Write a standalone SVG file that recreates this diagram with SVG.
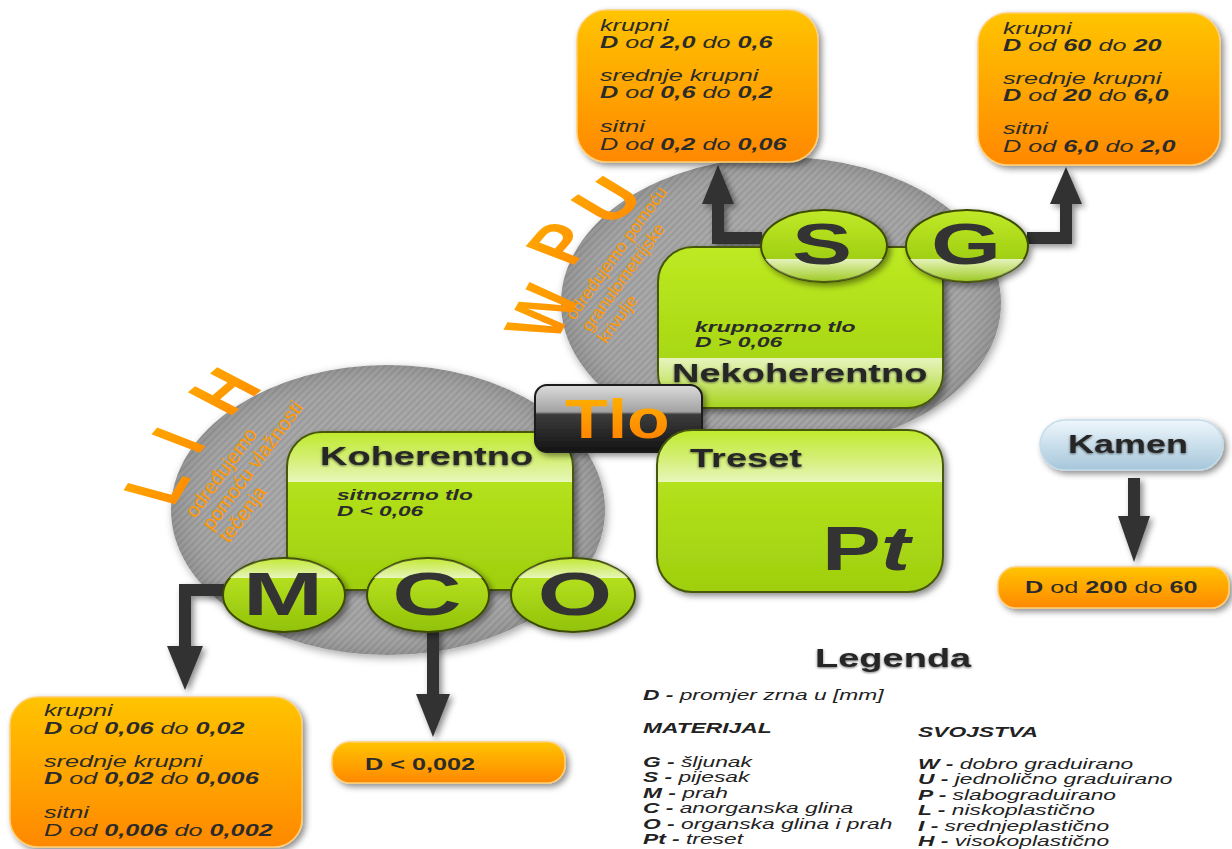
<svg xmlns="http://www.w3.org/2000/svg" width="1232" height="849" viewBox="0 0 1232 849">
<defs>
  <style>
    text { font-family: "Liberation Sans", Arial, "Noto Sans", sans-serif; }
    .ot { font-size: 16.5px; font-style: italic; fill: #2b2b2b; }
    .b { font-weight: bold; }
    .pl { font-size: 16.5px; fill: #2b2b2b; }
    .title { font-size: 25px; font-weight: bold; fill: #262626; filter: url(#tsh); }
    .sub { font-size: 15px; font-weight: bold; font-style: italic; fill: #2b2b2b; }
    .big { font-weight: bold; fill: #333; text-anchor: middle; }
    .arc { font-size: 54px; font-weight: bold; fill: url(#gOrTxt); text-anchor: middle; }
    .side { fill: #ff9800; }
    .leg { font-size: 15px; font-style: italic; fill: #222; }
    .conn { fill: none; stroke: #333; stroke-width: 12; }
    .head { fill: #333; }
    .gbox { fill: url(#gGreen); stroke: #46580c; stroke-width: 2; }
    .gell { fill: url(#gEll); stroke: #3d4c05; stroke-width: 2; }
    .bandT { fill: url(#gBandTop); }
    .bandB { fill: url(#gBandBot); }
    .obox { fill: url(#gOrange); stroke: #ffce70; stroke-width: 1.5; }
    .gray { fill: url(#stripes); }
    .grayov { fill: url(#gGray); }
  </style>
  <linearGradient id="gGreen" x1="0" y1="0" x2="0" y2="1">
    <stop offset="0" stop-color="#bdea22"/>
    <stop offset="1" stop-color="#9fcf0e"/>
  </linearGradient>
  <linearGradient id="gEll" x1="0" y1="0" x2="0" y2="1">
    <stop offset="0" stop-color="#c0ea28"/>
    <stop offset="1" stop-color="#92c208"/>
  </linearGradient>
  <linearGradient id="gBandTop" x1="0" y1="0" x2="0" y2="1">
    <stop offset="0" stop-color="#ffffff" stop-opacity="0.05"/>
    <stop offset="1" stop-color="#ffffff" stop-opacity="0.7"/>
  </linearGradient>
  <linearGradient id="gBandBot" x1="0" y1="0" x2="0" y2="1">
    <stop offset="0" stop-color="#ffffff" stop-opacity="0.72"/>
    <stop offset="1" stop-color="#ffffff" stop-opacity="0.08"/>
  </linearGradient>
  <linearGradient id="gOrange" x1="0" y1="0" x2="0" y2="1">
    <stop offset="0" stop-color="#ffc400"/>
    <stop offset="1" stop-color="#ff8800"/>
  </linearGradient>
  <linearGradient id="gKamen" x1="0" y1="0" x2="0" y2="1">
    <stop offset="0" stop-color="#eef7fc"/>
    <stop offset="1" stop-color="#a6c6da"/>
  </linearGradient>
  <linearGradient id="gTlo" x1="0" y1="0" x2="0" y2="1">
    <stop offset="0" stop-color="#dcdcdc"/>
    <stop offset="0.4" stop-color="#a2a2a2"/>
    <stop offset="0.44" stop-color="#3c3c3c"/>
    <stop offset="1" stop-color="#141414"/>
  </linearGradient>
  <linearGradient id="gTloTxt" x1="0" y1="0" x2="0" y2="1">
    <stop offset="0" stop-color="#ffb800"/>
    <stop offset="1" stop-color="#ff7a00"/>
  </linearGradient>
  <linearGradient id="gOrTxt" x1="0" y1="0" x2="0" y2="1">
    <stop offset="0" stop-color="#ffaa00"/>
    <stop offset="1" stop-color="#ff8a00"/>
  </linearGradient>
  <radialGradient id="gGray" cx="0.5" cy="0.5" r="0.5">
    <stop offset="0" stop-color="#ffffff" stop-opacity="0.14"/>
    <stop offset="0.8" stop-color="#ffffff" stop-opacity="0.02"/>
    <stop offset="1" stop-color="#000000" stop-opacity="0.1"/>
  </radialGradient>
  <pattern id="stripes" width="5" height="5" patternUnits="userSpaceOnUse" patternTransform="rotate(45)">
    <rect width="5" height="5" fill="#a4a4a4"/>
    <rect width="2" height="5" fill="#969696"/>
  </pattern>
  <filter id="sh" x="-20%" y="-20%" width="140%" height="150%">
    <feDropShadow dx="3" dy="3" stdDeviation="3" flood-color="#000" flood-opacity="0.45"/>
  </filter>
  <filter id="gsh" x="-10%" y="-10%" width="125%" height="130%">
    <feDropShadow dx="2" dy="3" stdDeviation="4" flood-color="#000" flood-opacity="0.35"/>
  </filter>
  <filter id="tsh" x="-10%" y="-30%" width="120%" height="170%">
    <feDropShadow dx="0" dy="1" stdDeviation="1.2" flood-color="#000" flood-opacity="0.55"/>
  </filter>
</defs>

<rect width="1232" height="849" fill="#ffffff"/>

<!-- gray background discs -->
<g id="disc-lih" filter="url(#gsh)">
  <ellipse class="gray" cx="388" cy="510" rx="217" ry="145"/>
  <ellipse class="grayov" cx="388" cy="510" rx="217" ry="145"/>
</g>
<g id="disc-wpu" filter="url(#gsh)">
  <ellipse class="gray" cx="781" cy="303" rx="220" ry="146"/>
  <ellipse class="grayov" cx="781" cy="303" rx="220" ry="146"/>
</g>

<!-- arc letters and side texts -->
<g id="label-lih">
  <text class="arc" transform="translate(156,485) scale(1.5,1) rotate(-68)" y="19">L</text>
  <text class="arc" transform="translate(178,440) scale(1.5,1) rotate(-60)" y="19">I</text>
  <text class="arc" transform="translate(224,391) scale(1.5,1) rotate(-52)" y="19">H</text>
  <g transform="translate(195,519) rotate(-53.4)" font-size="20">
    <text class="side">određujemo</text>
    <text class="side" y="21">pomoću vlažnosti</text>
    <text class="side" y="42">tečenja</text>
  </g>
</g>
<g id="label-wpu">
  <text class="arc" transform="translate(542,312) scale(1.5,1) rotate(-70)" y="19">W</text>
  <text class="arc" transform="translate(560,243) scale(1.5,1) rotate(-60)" y="19">P</text>
  <text class="arc" transform="translate(607,200) scale(1.5,1) rotate(-48)" y="19">U</text>
  <g transform="translate(574,321) rotate(-54)" font-size="17.5">
    <text class="side">određujemo pomoću</text>
    <text class="side" y="20">granulometrijske</text>
    <text class="side" y="40">krivulje</text>
  </g>
</g>

<!-- connectors -->
<g id="connectors" filter="url(#sh)">
  <path class="conn" d="M762,238 H718 V200"/>
  <polygon class="head" points="702,204 734,204 718,165"/>
  <path class="conn" d="M1027,238 H1066 V200"/>
  <polygon class="head" points="1050,204 1082,204 1066,167"/>
  <path class="conn" d="M224,590 H185 V650"/>
  <polygon class="head" points="167,646 203,646 185,690"/>
  <path class="conn" d="M433,628 V698"/>
  <polygon class="head" points="416,694 450,694 433,737"/>
  <path class="conn" d="M1134,478 V520"/>
  <polygon class="head" points="1118,516 1150,516 1134,562"/>
</g>

<!-- Koherentno -->
<g id="koherentno">
  <rect class="gbox" x="287" y="432" width="286" height="158" rx="35" filter="url(#sh)"/>
  <path class="bandT" d="M288,482 V467 A34,34 0 0 1 322,433 H538 A34,34 0 0 1 572,467 V482 Z"/>
  <text class="title" transform="translate(320,465) scale(1.52,1)">Koherentno</text>
  <text class="sub" transform="translate(337,500) scale(1.51,1)">sitnozrno tlo</text>
  <text class="sub" transform="translate(337,516) scale(1.51,1)">D &lt; 0,06</text>
</g>

<!-- Nekoherentno -->
<g id="nekoherentno">
  <rect class="gbox" x="658" y="247" width="285" height="161" rx="35" filter="url(#sh)"/>
  <path class="bandB" d="M659,358 H942 V373 A34,34 0 0 1 908,407 H693 A34,34 0 0 1 659,373 Z"/>
  <text class="sub" transform="translate(695,332) scale(1.53,1)">krupnozrno tlo</text>
  <text class="sub" transform="translate(695,347) scale(1.53,1)">D &gt; 0,06</text>
  <text class="title" transform="translate(672,382) scale(1.52,1)">Nekoherentno</text>
</g>

<!-- Tlo -->
<g id="tlo" filter="url(#sh)">
  <rect x="535" y="385" width="167" height="67" rx="12" fill="url(#gTlo)" stroke="#1a1a1a" stroke-width="2"/>
  <text transform="translate(565,438) scale(1.27,1)" font-size="55" font-weight="bold" fill="url(#gTloTxt)">Tlo</text>
</g>

<!-- Treset -->
<g id="treset">
  <rect class="gbox" x="657" y="430" width="286" height="162" rx="35" filter="url(#sh)"/>
  <path class="bandT" d="M658,482 V465 A34,34 0 0 1 692,431 H908 A34,34 0 0 1 942,465 V482 Z"/>
  <text class="title" transform="translate(690,467) scale(1.52,1)">Treset</text>
  <text class="big" transform="translate(822,570) scale(1.4,1)" font-size="63" style="text-anchor:start">P<tspan font-style="italic">t</tspan></text>
</g>

<!-- S and G -->
<g id="node-s">
  <ellipse class="gell" cx="824" cy="246" rx="63" ry="36" filter="url(#sh)"/>
  <path class="bandB" d="M765.2,259 A63,36 0 0 0 882.8,259 Z"/>
  <text class="big" transform="translate(822,264) scale(1.58,1)" font-size="57">S</text>
</g>
<g id="node-g">
  <ellipse class="gell" cx="967" cy="246" rx="61" ry="36" filter="url(#sh)"/>
  <path class="bandB" d="M910.1,259 A61,36 0 0 0 1023.9,259 Z"/>
  <text class="big" transform="translate(966,264) scale(1.58,1)" font-size="57">G</text>
</g>

<!-- M C O -->
<g id="node-m">
  <ellipse class="gell" cx="284" cy="595" rx="61" ry="37" filter="url(#sh)"/>
  <path class="bandT" d="M229.8,578 A61,37 0 0 1 338.2,578 Z"/>
  <text class="big" transform="translate(283,615) scale(1.55,1)" font-size="62">M</text>
</g>
<g id="node-c">
  <ellipse class="gell" cx="428" cy="595" rx="61" ry="37" filter="url(#sh)"/>
  <path class="bandT" d="M373.8,578 A61,37 0 0 1 482.2,578 Z"/>
  <text class="big" transform="translate(427,615) scale(1.55,1)" font-size="62">C</text>
</g>
<g id="node-o">
  <ellipse class="gell" cx="573" cy="595" rx="62" ry="37" filter="url(#sh)"/>
  <path class="bandT" d="M518,578 A62,37 0 0 1 628,578 Z"/>
  <text class="big" transform="translate(575,615) scale(1.55,1)" font-size="62">O</text>
</g>

<!-- orange boxes -->
<g id="box-s">
  <rect class="obox" x="577" y="10" width="241" height="152" rx="30" filter="url(#sh)"/>
  <text class="ot" transform="translate(600,31) scale(1.53,1)">krupni</text>
  <text class="ot" transform="translate(600,48) scale(1.53,1)"><tspan class="b">D</tspan> od <tspan class="b">2,0</tspan> do <tspan class="b">0,6</tspan></text>
  <text class="ot" transform="translate(600,81) scale(1.53,1)">srednje krupni</text>
  <text class="ot" transform="translate(600,98) scale(1.53,1)"><tspan class="b">D</tspan> od <tspan class="b">0,6</tspan> do <tspan class="b">0,2</tspan></text>
  <text class="ot" transform="translate(600,132) scale(1.53,1)">sitni</text>
  <text class="ot" transform="translate(600,150) scale(1.53,1)">D od <tspan class="b">0,2</tspan> do <tspan class="b">0,06</tspan></text>
</g>
<g id="box-g">
  <rect class="obox" x="978" y="13" width="242" height="152" rx="30" filter="url(#sh)"/>
  <text class="ot" transform="translate(1003,34) scale(1.53,1)">krupni</text>
  <text class="ot" transform="translate(1003,51) scale(1.53,1)"><tspan class="b">D</tspan> od <tspan class="b">60</tspan> do <tspan class="b">20</tspan></text>
  <text class="ot" transform="translate(1003,84) scale(1.53,1)">srednje krupni</text>
  <text class="ot" transform="translate(1003,101) scale(1.53,1)"><tspan class="b">D</tspan> od <tspan class="b">20</tspan> do <tspan class="b">6,0</tspan></text>
  <text class="ot" transform="translate(1003,134) scale(1.53,1)">sitni</text>
  <text class="ot" transform="translate(1003,152) scale(1.53,1)">D od <tspan class="b">6,0</tspan> do <tspan class="b">2,0</tspan></text>
</g>
<g id="box-m">
  <rect class="obox" x="10" y="697" width="292" height="150" rx="28" filter="url(#sh)"/>
  <text class="ot" transform="translate(44,716) scale(1.53,1)">krupni</text>
  <text class="ot" transform="translate(44,734) scale(1.53,1)"><tspan class="b">D</tspan> od <tspan class="b">0,06</tspan> do <tspan class="b">0,02</tspan></text>
  <text class="ot" transform="translate(44,767) scale(1.53,1)">srednje krupni</text>
  <text class="ot" transform="translate(44,784) scale(1.53,1)"><tspan class="b">D</tspan> od <tspan class="b">0,02</tspan> do <tspan class="b">0,006</tspan></text>
  <text class="ot" transform="translate(44,818) scale(1.53,1)">sitni</text>
  <text class="ot" transform="translate(44,836) scale(1.53,1)">D od <tspan class="b">0,006</tspan> do <tspan class="b">0,002</tspan></text>
</g>
<g id="box-c">
  <rect class="obox" x="332" y="742" width="233" height="41" rx="18" filter="url(#sh)"/>
  <text class="pl b" transform="translate(365,770) scale(1.53,1)">D &lt; 0,002</text>
</g>

<!-- Kamen -->
<g id="kamen">
  <rect x="1040" y="420" width="183" height="50" rx="25" fill="url(#gKamen)" stroke="#c4dcea" stroke-width="1.5" filter="url(#sh)"/>
  <text class="title" transform="translate(1068,453) scale(1.44,1)" font-size="26">Kamen</text>
</g>
<g id="box-kamen">
  <rect class="obox" x="998" y="567" width="231" height="41" rx="18" filter="url(#sh)"/>
  <text class="pl" transform="translate(1025,593) scale(1.53,1)"><tspan class="b">D</tspan> od <tspan class="b">200</tspan> do <tspan class="b">60</tspan></text>
</g>

<!-- Legend -->
<g id="legend">
  <text class="title" transform="translate(815,667) scale(1.52,1)" font-size="25">Legenda</text>
  <text class="leg" transform="translate(643,700) scale(1.52,1)"><tspan class="b">D -</tspan> promjer zrna u [mm]</text>
  <text class="leg b" transform="translate(643,733) scale(1.52,1)">MATERIJAL</text>
  <text class="leg" transform="translate(643,767) scale(1.52,1)"><tspan class="b">G -</tspan> šljunak</text>
  <text class="leg" transform="translate(643,782) scale(1.52,1)"><tspan class="b">S -</tspan> pijesak</text>
  <text class="leg" transform="translate(643,798) scale(1.52,1)"><tspan class="b">M -</tspan> prah</text>
  <text class="leg" transform="translate(643,813) scale(1.52,1)"><tspan class="b">C -</tspan> anorganska glina</text>
  <text class="leg" transform="translate(643,829) scale(1.52,1)"><tspan class="b">O -</tspan> organska glina i prah</text>
  <text class="leg" transform="translate(643,844) scale(1.52,1)"><tspan class="b">Pt -</tspan> treset</text>
  <text class="leg b" transform="translate(918,737) scale(1.52,1)">SVOJSTVA</text>
  <text class="leg" transform="translate(918,769) scale(1.52,1)"><tspan class="b">W -</tspan> dobro graduirano</text>
  <text class="leg" transform="translate(918,784) scale(1.52,1)"><tspan class="b">U -</tspan> jednolično graduirano</text>
  <text class="leg" transform="translate(918,800) scale(1.52,1)"><tspan class="b">P -</tspan> slabograduirano</text>
  <text class="leg" transform="translate(918,815) scale(1.52,1)"><tspan class="b">L -</tspan> niskoplastično</text>
  <text class="leg" transform="translate(918,831) scale(1.52,1)"><tspan class="b">I -</tspan> srednjeplastično</text>
  <text class="leg" transform="translate(918,846) scale(1.52,1)"><tspan class="b">H -</tspan> visokoplastično</text>
</g>
</svg>
